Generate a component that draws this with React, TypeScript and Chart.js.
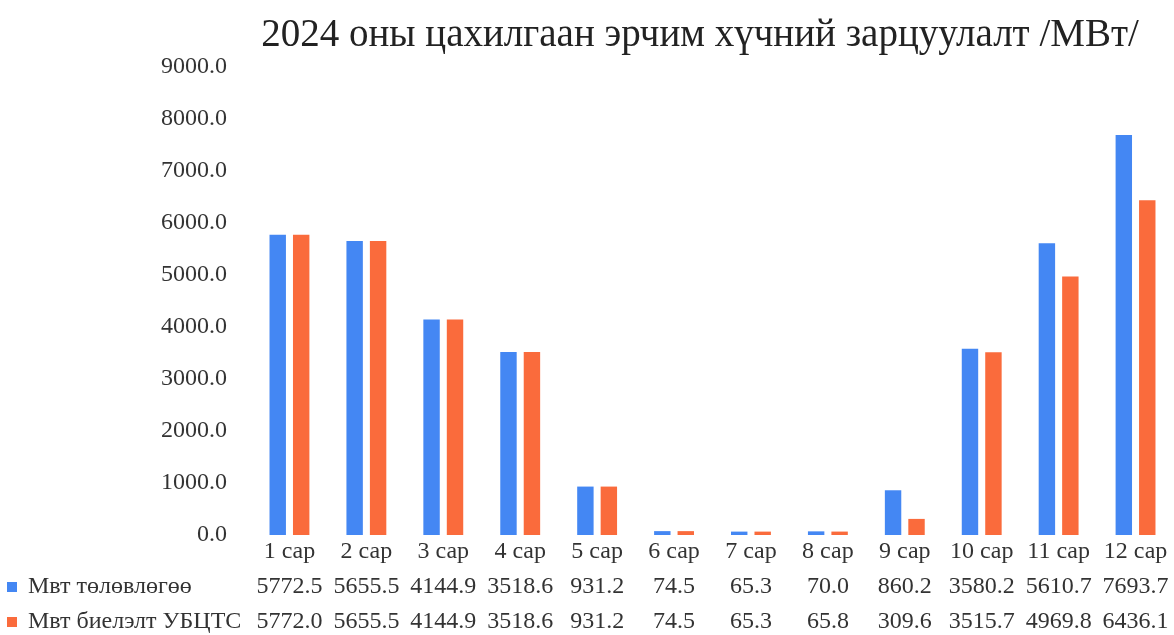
import React, { useEffect, useRef } from "react";
import { Chart, registerables } from "chart.js";

Chart.register(...registerables);

const TITLE = "2024 оны цахилгаан эрчим хүчний зарцуулалт /МВт/";
const categories = ["1 сар", "2 сар", "3 сар", "4 сар", "5 сар", "6 сар", "7 сар", "8 сар", "9 сар", "10 сар", "11 сар", "12 сар"];
const seriesNames = ["Мвт төлөвлөгөө", "Мвт биелэлт УБЦТС"];
const planValues = [5772.5, 5655.5, 4144.9, 3518.6, 931.2, 74.5, 65.3, 70.0, 860.2, 3580.2, 5610.7, 7693.7];
const actualValues = [5772.0, 5655.5, 4144.9, 3518.6, 931.2, 74.5, 65.3, 65.8, 309.6, 3515.7, 4969.8, 6436.1];
const yTicks = [0, 1000, 2000, 3000, 4000, 5000, 6000, 7000, 8000, 9000];

const BLUE = "#4487f3";
const ORANGE = "#fa6b3c";
const FONT = "'Liberation Serif', 'DejaVu Serif', serif";

const tablePlugin = {
  id: "tablePlugin",
  afterDraw(chart: any) {
    const ctx = chart.ctx;
    const xs = chart.scales.x;
    ctx.save();
    // title
    ctx.fillStyle = "#222";
    ctx.font = `39px ${FONT}`;
    ctx.textAlign = "center";
    ctx.textBaseline = "middle";
    ctx.fillText(TITLE, 700, 36);

    ctx.font = `24px ${FONT}`;
    ctx.fillStyle = "#333";
    ctx.textAlign = "center";
    categories.forEach((c, i) => {
      const x = xs.getPixelForValue(i);
      ctx.fillText(c, x, 552);
      ctx.fillText(planValues[i].toFixed(1), x, 587);
      ctx.fillText(actualValues[i].toFixed(1), x, 622);
    });
    const rows = [587, 622];
    const colors = [BLUE, ORANGE];
    ctx.textAlign = "left";
    seriesNames.forEach((n, k) => {
      ctx.fillStyle = colors[k];
      ctx.fillRect(7, rows[k] - 5, 10, 10);
      ctx.fillStyle = "#333";
      ctx.fillText(n, 28, rows[k]);
    });
    ctx.restore();
  },
};

export default function App() {
  const ref = useRef<HTMLCanvasElement | null>(null);
  useEffect(() => {
    if (!ref.current) return;
    const chart = new Chart(ref.current, {
      type: "bar",
      data: {
        labels: categories,
        datasets: [
          { label: seriesNames[0], data: planValues, backgroundColor: BLUE, categoryPercentage: 0.61, barPercentage: 0.7 },
          { label: seriesNames[1], data: actualValues, backgroundColor: ORANGE, categoryPercentage: 0.61, barPercentage: 0.7 },
        ],
      },
      options: {
        responsive: false,
        animation: false,
        layout: { padding: { top: 67, bottom: 100, left: 0, right: 0 } },
        plugins: { legend: { display: false }, title: { display: false }, tooltip: { enabled: false } },
        scales: {
          x: { display: false },
          y: {
            min: 0,
            max: 9000,
            afterBuildTicks: (s: any) => {
              s.ticks = yTicks.map((v) => ({ value: v }));
            },
            afterFit: (s: any) => {
              s.width = 251;
            },
            grid: { display: false, drawTicks: false },
            border: { display: false },
            ticks: {
              padding: 24,
              color: "#333",
              font: { family: FONT, size: 24 },
              callback: (v: any) => Number(v).toFixed(1),
            },
          },
        },
      },
      plugins: [tablePlugin],
    });
    return () => chart.destroy();
  }, []);
  return (
    <div style={{ position: "absolute", left: 0, top: 0, width: 1174, height: 635, background: "#fff" }}>
      <canvas ref={ref} width={1174} height={635} />
    </div>
  );
}
